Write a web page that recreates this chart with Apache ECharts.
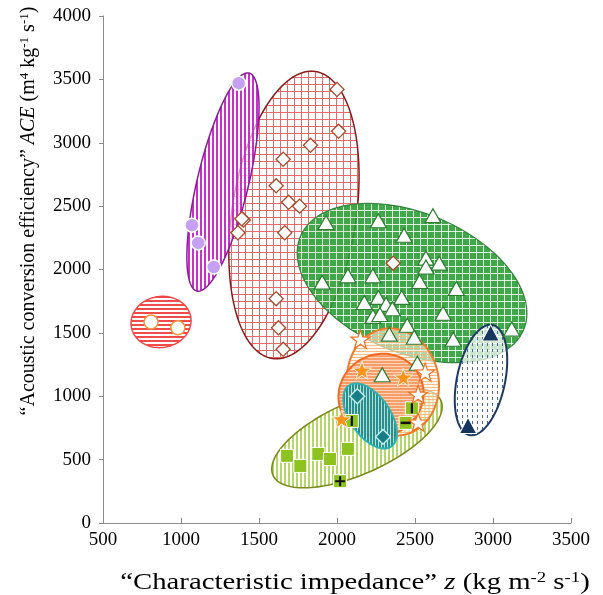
<!DOCTYPE html>
<html>
<head>
<meta charset="utf-8">
<script src="https://cdn.jsdelivr.net/npm/echarts@6/dist/echarts.min.js"></script>
<style>
html,body{margin:0;padding:0;background:#fff;}
#chart{width:603px;height:595px;}
</style>
</head>
<body>
<div id="chart"></div>
<script>
// ---------- data (z in kg m-2 s-1, ACE in m4 kg-1 s-1) ----------
const xTicks = [500, 1000, 1500, 2000, 2500, 3000, 3500];
const yTicks = [0, 500, 1000, 1500, 2000, 2500, 3000, 3500, 4000];

const purpleCircles = [[1370, 3470], [1070, 2350], [1110, 2210], [1210, 2020]];
const orangeRingCircles = [[808, 1585], [980, 1540]];
const brownDiamonds = [[2000, 3420], [2010, 3090], [1830, 2980], [1655, 2870], [1610, 2660],
  [1690, 2530], [1760, 2500], [1400, 2390], [1390, 2400], [1365, 2290], [1665, 2290],
  [1610, 1770], [1625, 1540], [1655, 1370], [2360, 2050]];
const greenTriangles = [[1930, 2370], [2265, 2385], [2615, 2425], [2430, 2270], [2570, 2090],
  [2655, 2050], [2570, 2020], [2070, 1950], [2230, 1950], [1905, 1900], [2530, 1905],
  [2765, 1850], [2265, 1780], [2415, 1780], [2175, 1740], [2315, 1725], [2355, 1690],
  [2230, 1630], [2275, 1645], [2680, 1655], [2450, 1560], [2335, 1490], [2495, 1465],
  [2745, 1450], [3120, 1530], [2515, 1260], [2290, 1170]];
const navyTriangles = [[2985, 1500], [2840, 770]];
const tealDiamonds = [[2130, 1000], [2295, 680]];
const limeSquares = [[1680, 530], [1765, 450], [1880, 545], [1955, 505], [2070, 585],
  [2020, 330], [2095, 805], [2480, 905], [2440, 790]];
const limePlus = [[2020, 330]];
const limeVBar = [[2095, 805], [2480, 905]];
const limeHBar = [[2440, 790]];
const orangeStars = [[2160, 1205], [2425, 1150], [2030, 820]];
const whiteStars = [[2150, 1450], [2565, 1190], [2520, 1015], [2520, 795]];

// group ellipses: centre, half-axis vectors (conjugate) in data units
const ellipseNames   = ['redGrid', 'purple', 'redOval', 'green', 'olive', 'navy', 'peach', 'salmon', 'teal'];
const ellipseCenterX = [1724, 1269, 872, 2481, 2128, 2923, 2359, 2282, 2212];
const ellipseCenterY = [2430, 2690, 1586, 1893, 671, 1128, 1112, 1010, 844];
const ellipseAxisU   = [[138, 1132], [167, 860], [192, 24], [716, -367], [538, 295], [74, 434], [-64, 418], [45, 323], [135, -241]];
const ellipseAxisV   = [[394, -73], [160, -47], [13, -201], [-172, -510], [94, -260], [151, -39], [288, 67], [269, -39], [106, 89]];

// ---------- patterns ----------
function pattern(w, h, draw) {
  const c = document.createElement('canvas');
  c.width = w; c.height = h;
  draw(c.getContext('2d'), w, h);
  return { image: c, repeat: 'repeat' };
}
const fills = {
  redGrid: pattern(7, 7, (g, w, h) => { g.fillStyle = '#E56A6A'; g.fillRect(0, 0, 1, h); g.fillRect(0, 0, w, 1); }),
  purple: pattern(4, 4, (g, w, h) => { g.fillStyle = 'rgba(255,255,255,0.6)'; g.fillRect(0, 0, w, h); g.fillStyle = '#C631CC'; g.fillRect(0, 0, 2, h); }),
  redOval: pattern(4, 4, (g, w, h) => { g.fillStyle = '#F24B4B'; g.fillRect(0, 0, w, 2); }),
  green: pattern(7, 7, (g, w, h) => { g.fillStyle = '#2C9E38'; g.fillRect(0, 0, w, h); g.fillStyle = 'rgba(235,250,235,0.9)'; g.fillRect(0, 0, 1, h); g.fillRect(0, 0, w, 1); }),
  olive: pattern(4, 4, (g, w, h) => { g.fillStyle = 'rgba(255,255,255,0.5)'; g.fillRect(0, 0, w, h); g.fillStyle = '#B7D66A'; g.fillRect(0, 0, 2, h); }),
  navy: pattern(5, 6, (g, w, h) => { g.fillStyle = 'rgba(255,255,255,0.72)'; g.fillRect(0, 0, w, h); g.fillStyle = '#4A6A9C'; g.fillRect(2, 1, 1, 3); }),
  peach: pattern(4, 3, (g, w, h) => { g.fillStyle = 'rgba(255,244,228,0.6)'; g.fillRect(0, 0, w, h); g.fillStyle = 'rgba(247,178,120,0.85)'; g.fillRect(0, 0, w, 1); }),
  salmon: pattern(4, 3, (g, w, h) => { g.fillStyle = 'rgba(246,150,98,0.92)'; g.fillRect(0, 0, w, h); g.fillStyle = 'rgba(253,215,190,0.9)'; g.fillRect(0, 0, w, 1); }),
  teal: pattern(3, 4, (g, w, h) => { g.fillStyle = '#1C8E8E'; g.fillRect(0, 0, w, h); g.fillStyle = 'rgba(200,240,240,0.85)'; g.fillRect(0, 0, 1, h); })
};
const strokes = {
  redGrid: ['#8B1A1A', 1.5, 1], purple: ['#8A1C9A', 1.5, 1], redOval: ['#F04848', 1.5, 1],
  green: ['#277A33', 1.2, 0.9], olive: ['#7E8A1E', 1.6, 1], navy: ['#1F3864', 2, 1],
  peach: ['#F47A2A', 2, 1], salmon: ['#F26A22', 2, 1], teal: ['#2AB0B0', 2, 0.95]
};

const STAR = 'path://M0,-100L23.5,-32.4L95.1,-30.9L38,12.4L58.8,80.9L0,40L-58.8,80.9L-38,12.4L-95.1,-30.9L-23.5,-32.4Z';
const PLUS = 'path://M-1,-5H1V-1H5V1H1V5H-1V1H-5V-1H-1Z';

const serif = '"Liberation Serif", "Times New Roman", serif';

const chart = echarts.init(document.getElementById('chart'), null, { renderer: 'canvas' });

function scatter(data, opt) {
  return Object.assign({ type: 'scatter', data: data, z: 5, animation: false,
    emphasis: { disabled: true } }, opt);
}

chart.setOption({
  animation: false,
  backgroundColor: '#ffffff',
  grid: { left: 103, right: 32, top: 16, bottom: 72 },
  xAxis: {
    type: 'value', min: xTicks[0], max: xTicks[xTicks.length - 1], interval: 500,
    axisLine: { show: true, lineStyle: { color: '#8c8c8c', width: 1 } },
    axisTick: { show: true, inside: true, length: 5, lineStyle: { color: '#8c8c8c' } },
    axisLabel: { color: '#000', fontFamily: serif, fontSize: 19, margin: 8, formatter: v => String(v) },
    splitLine: { show: false }
  },
  yAxis: {
    type: 'value', min: yTicks[0], max: yTicks[yTicks.length - 1], interval: 500,
    axisLine: { show: true, lineStyle: { color: '#8c8c8c', width: 1 } },
    axisTick: { show: true, inside: false, length: 4, lineStyle: { color: '#8c8c8c' } },
    axisLabel: { color: '#000', fontFamily: serif, fontSize: 19, margin: 12, formatter: v => String(v) },
    splitLine: { show: false }
  },
  graphic: [
    {
      type: 'text', x: 355, y: 583, scaleX: 1.25,
      style: {
        text: '“Characteristic impedance” {i|z} (kg m{sup|-2} s{sup|-1})',
        font: '23px ' + serif, fill: '#000', align: 'center', verticalAlign: 'middle',
        rich: {
          i: { fontFamily: serif, fontSize: 23, fontStyle: 'italic', fill: '#000' },
          sup: { fontFamily: serif, fontSize: 15, fill: '#000', verticalAlign: 'top', padding: [0, 0, 10, 0] }
        }
      }
    },
    {
      type: 'text', x: 29, y: 211, rotation: Math.PI / 2,
      style: {
        text: '“Acoustic conversion efficiency” {i|ACE} (m{sup|4} kg{sup|-1} s{sup|-1})',
        font: '20px ' + serif, fill: '#000', align: 'center', verticalAlign: 'middle',
        rich: {
          i: { fontFamily: serif, fontSize: 20, fontStyle: 'italic', fill: '#000' },
          sup: { fontFamily: serif, fontSize: 13, fill: '#000', verticalAlign: 'top', padding: [0, 0, 9, 0] }
        }
      }
    }
  ],
  series: [
    {
      type: 'custom', z: 1, animation: false,
      data: ellipseNames.map((n, i) => [ellipseCenterX[i], ellipseCenterY[i]]),
      encode: { x: 0, y: 1 },
      renderItem: function (params, api) {
        const i = params.dataIndex;
        const name = ellipseNames[i];
        const cx = ellipseCenterX[i], cy = ellipseCenterY[i];
        const u = ellipseAxisU[i], v = ellipseAxisV[i];
        const pts = [];
        const N = 144;
        for (let k = 0; k < N; k++) {
          const t = k / N * Math.PI * 2;
          const c = Math.cos(t), s = Math.sin(t);
          pts.push(api.coord([cx + u[0] * c + v[0] * s, cy + u[1] * c + v[1] * s]));
        }
        const st = strokes[name];
        return {
          type: 'polygon', shape: { points: pts },
          style: { fill: fills[name], stroke: st[0], lineWidth: st[1], opacity: st[2] }
        };
      }
    },
    scatter(purpleCircles, { symbol: 'circle', symbolSize: 14, itemStyle: { color: '#C6A0F2', borderColor: '#ffffff', borderWidth: 1.5, opacity: 1 } }),
    scatter(orangeRingCircles, { symbol: 'circle', symbolSize: 14, itemStyle: { color: '#ffffff', borderColor: '#F0963A', borderWidth: 1.5, opacity: 1 } }),
    scatter(brownDiamonds, { symbol: 'rect', symbolRotate: 45, symbolSize: 10, itemStyle: { color: '#ffffff', borderColor: '#A84A2C', borderWidth: 1.3, opacity: 1 } }),
    scatter(greenTriangles, { symbol: 'triangle', symbolSize: [16, 14], itemStyle: { color: '#ffffff', borderColor: '#2E7D32', borderWidth: 1.2, opacity: 1 } }),
    scatter(navyTriangles, { symbol: 'triangle', symbolSize: [17, 16], itemStyle: { color: '#17365D', borderColor: '#ffffff', borderWidth: 1, opacity: 1 } }),
    scatter(tealDiamonds, { symbol: 'rect', symbolRotate: 45, symbolSize: 10.5, itemStyle: { color: '#177E85', borderColor: '#C4EEEE', borderWidth: 1.4, opacity: 1 } }),
    scatter(limeSquares, { symbol: 'rect', symbolSize: 13, itemStyle: { color: '#8DC21F', borderColor: '#ffffff', borderWidth: 1, opacity: 1 } }),
    scatter(limePlus, { symbol: PLUS, symbolSize: 10, z: 6, itemStyle: { color: '#111', opacity: 1 } }),
    scatter(limeVBar, { symbol: 'rect', symbolSize: [2.2, 10], z: 6, itemStyle: { color: '#111', opacity: 1 } }),
    scatter(limeHBar, { symbol: 'rect', symbolSize: [10, 2.5], z: 6, itemStyle: { color: '#111', opacity: 1 } }),
    scatter(orangeStars, { symbol: STAR, symbolKeepAspect: true, symbolSize: 19, itemStyle: { color: '#F7941D', borderColor: '#FFF3E0', borderWidth: 1, opacity: 1 } }),
    scatter(whiteStars, { symbol: STAR, symbolKeepAspect: true, symbolSize: 19, itemStyle: { color: '#ffffff', borderColor: '#F37021', borderWidth: 1.2, opacity: 1 } })
  ]
});
</script>
</body>
</html>
